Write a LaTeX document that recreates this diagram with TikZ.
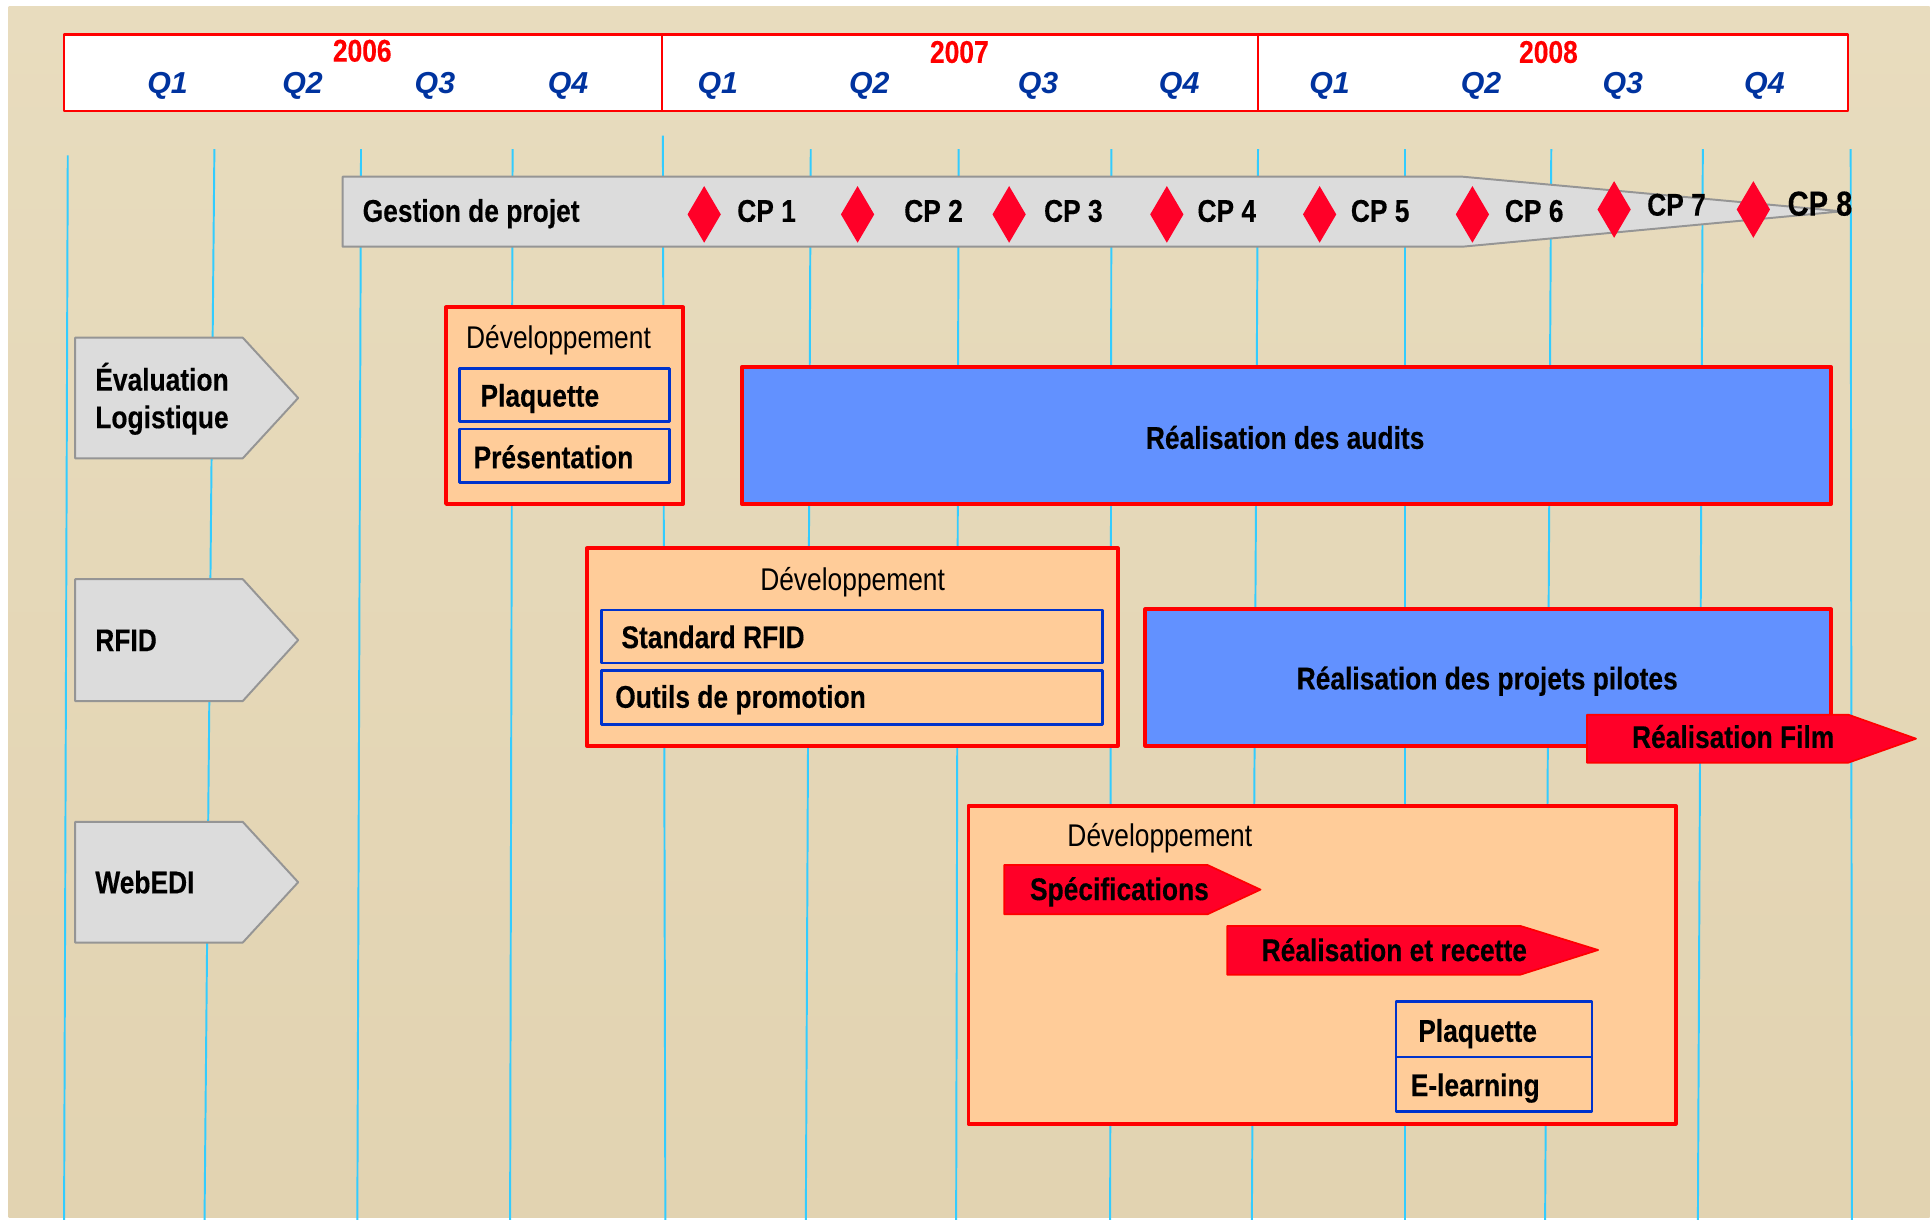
\documentclass[tikz,border=0pt]{standalone}
\usepackage{fontspec}
\setmainfont{Liberation Sans}[FakeStretch=0.84,BoldFeatures={FakeBold=0.3}]
\newfontfamily\trimfont{Liberation Sans}
\usetikzlibrary{positioning}
\definecolor{fondhaut}{HTML}{E8DCBE}
\definecolor{fondmilieu}{HTML}{F2EBD9}
\definecolor{fondbas}{HTML}{E2D3B1}
\definecolor{rouge}{HTML}{FF0000}
\definecolor{rougevif}{HTML}{FF0028}
\definecolor{peche}{HTML}{FFCC99}
\definecolor{bleuaudit}{HTML}{6291FF}
\definecolor{bleucadre}{HTML}{0033CC}
\definecolor{bleutrim}{HTML}{00339F}
\definecolor{trait}{HTML}{33CCFF}
\definecolor{grisfond}{HTML}{DCDCDC}
\definecolor{grisbord}{HTML}{959595}

\begin{document}
\begin{tikzpicture}[x=0.2mm,y=-0.2mm,line join=round,
    font=\fontsize{14.5}{16}\selectfont\bfseries,
    etiq/.style={inner sep=0pt,anchor=base west},
    annee/.style={inner sep=0pt,anchor=base,text=rouge},
    trim/.style={inner sep=0pt,anchor=base,text=bleutrim,font=\fontsize{14}{16}\selectfont\trimfont\bfseries\itshape},
    dvp/.style={inner sep=0pt,anchor=base west,font=\fontsize{14.5}{16}\selectfont\mdseries},
    gris/.style={draw=grisbord,fill=grisfond,line width=0.9pt},
    dev/.style={draw=rouge,fill=peche,line width=1.8pt},
    cadre/.style={draw=bleucadre,line width=1.2pt},
    audit/.style={draw=rouge,fill=bleuaudit,line width=1.8pt},
    rougefl/.style={draw=rouge,fill=rougevif,line width=0.8pt}]
	% fond
	\useasboundingbox (0,0) rectangle (1568,991);
	\fill[white] (0,0) rectangle (1568,991);
	\shade[top color=fondhaut,middle color=fondmilieu,bottom color=fondbas]
	(7,5) rectangle (1566,988);
	
	% traits des trimestres
	\foreach \a/\b/\h in {55/52/126,174/166/121,293/290/121,416/414/121,538/540/110,658/654/121,778/776/121,902/901/121,1021/1016/121,1140/1140/121,1259/1254/121,1382/1378/121,1502/1503/121}
	\draw[trait,line width=0.9pt] (\a,\h) -- (\b,990);
	
	% en-tete
	\draw[rouge,line width=1pt,fill=white] (52,28) rectangle (1500,90);
	\draw[rouge,line width=1pt]
	(537,28) -- (537,90)
	(1021,28) -- (1021,90)
	;
	\node[annee] (an2006) at (294,50) {2006};
	\node[annee] (an2007) at (778.6,51) {2007};
	\node[annee] (an2008) at (1256.7,51) {2008};
	\foreach \x/\q [count=\i] in {136/1,245.5/2,353/3,461/4,582.5/1,705.5/2,842.5/3,957/4,1079/1,1202/2,1317/3,1432/4}
	\node[trim] (q\i) at (\x,75.7) {Q\q};
	
	% gestion de projet
	\draw[gris] (278,143.4) -- (1187,143.4) -- (1495,171.5) -- (1187,200.2) -- (278,200.2) -- cycle;
	\node[etiq] (gestion) at (294,180) {Gestion de projet};
	\foreach \x/\y in {571.5/174,696/174,819/174,947/174,1071/174,1195/174,1310/170,1423/170}
	\fill[rougevif] (\x,\y-23) -- (\x+13.5,\y) -- (\x,\y+23) -- (\x-13.5,\y) -- cycle;
	\foreach \x/\y [count=\i] in {598/180,733.5/180,847/180,971.5/180,1096/180,1221/180,1336.5/175}
	\node[etiq] (cp\i) at (\x,\y) {CP \i};
	\node[etiq,font=\fontsize{16}{18}\selectfont\bfseries] (cp8) at (1450.5,175) {CP 8};
	
	% lignes
	\draw[gris] (61,274) -- (197,274) -- (242,323) -- (197,372) -- (61,372) -- cycle;
	\node[etiq] (evalA) at (77,317) {Évaluation};
	\node[etiq] (evalB) at (77,347.5) {Logistique};
	\draw[gris] (61,470) -- (197,470) -- (242,519.5) -- (197,569) -- (61,569) -- cycle;
	\node[etiq] (rfid) at (77,528.5) {RFID};
	\draw[gris] (61,667) -- (197,667) -- (242,716) -- (197,765) -- (61,765) -- cycle;
	\node[etiq] (webedi) at (77,725) {WebEDI};
	
	% evaluation logistique
	\draw[dev] (362,249.5) rectangle (554.4,409);
	\node[dvp] (dvpA) at (378,282.7) {Développement};
	\draw[cadre]
	(373,299) rectangle (543.5,342.3)
	(373,348.2) rectangle (543.5,391.5)
	;
	\node[etiq] (plaqA) at (389.6,330) {Plaquette};
	\node[etiq] (presA) at (384,380) {Présentation};
	\draw[audit] (602,298) rectangle (1486,409);
	\node[inner sep=0pt] (audits) at (1043,355) {Réalisation des audits};
	
	% rfid
	\draw[dev] (476.5,445) rectangle (907,605.3);
	\node[dvp,anchor=base] (dvpB) at (692,479) {Développement};
	\draw[cadre]
	(488,495) rectangle (895,538)
	(488,544.4) rectangle (895,588)
	;
	\node[etiq] (standard) at (504,526) {Standard RFID};
	\node[etiq] (outils) at (499,574.4) {Outils de promotion};
	\draw[audit] (929.5,494.6) rectangle (1486,605.3);
	\node[inner sep=0pt,anchor=base] (pilotes) at (1207,559.5) {Réalisation des projets pilotes};
	\draw[rougefl] (1288,580) -- (1500,580) -- (1555,599.5) -- (1500,619) -- (1288,619) -- cycle;
	\node[inner sep=0pt,anchor=base] (film) at (1406.6,607) {Réalisation Film};
	
	% webedi
	\draw[dev] (786,654) rectangle (1360,912);
	\node[dvp] (dvpC) at (866,687) {Développement};
	\draw[rougefl] (815,702) -- (980,702) -- (1023,722) -- (980,742) -- (815,742) -- cycle;
	\node[etiq] (specif) at (835.6,730.5) {Spécifications};
	\draw[rougefl] (996,751.5) -- (1234,751.5) -- (1297,771) -- (1234,791) -- (996,791) -- cycle;
	\node[etiq] (recette) at (1023.6,780) {Réalisation et recette};
	\draw[cadre]
	(1133,813) rectangle (1292,858)
	(1133,858) rectangle (1292,902)
	;
	\node[etiq] (plaqC) at (1150.7,845.5) {Plaquette};
	\node[etiq] (elearn) at (1144.6,889.6) {E-learning};
	
\end{tikzpicture}
\end{document}
